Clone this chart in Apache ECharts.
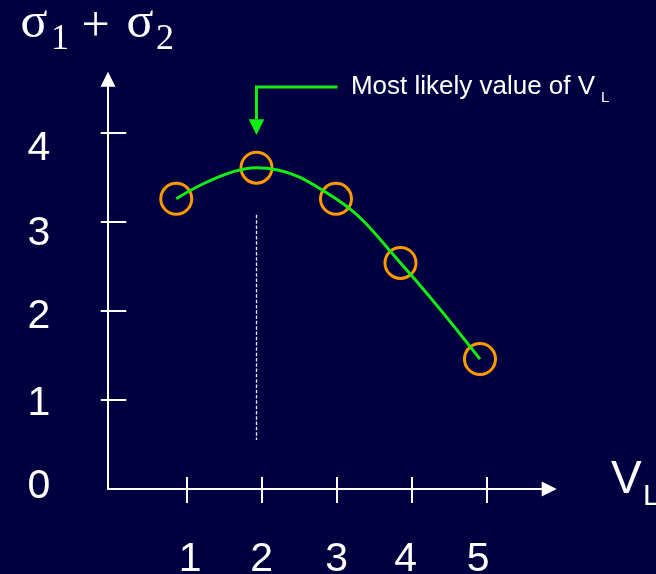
<!DOCTYPE html>
<html><head><meta charset="utf-8">
<script src="https://cdn.jsdelivr.net/npm/echarts@6/dist/echarts.min.js"></script>
<style>html,body{margin:0;padding:0;background:#000040;}#c{width:656px;height:574px;}</style>
</head><body><div id="c"></div>
<script>
// ---- data ----
const vlTicks = [1, 2, 3, 4, 5];
const sumTickMarks = [1, 2, 3, 4];
const sumTickLabels = [0, 1, 2, 3, 4];
const pointVL = [0.86, 1.93, 2.99, 3.85, 4.91];
const pointSum = [3.26, 3.61, 3.26, 2.54, 1.46];
const dropLineRange = [3.08, 0.55];
const annotationText = 'Most likely value of V';
const annotationSub = 'L';
const xName = 'V';
const xNameSub = 'L';

// ---- style ----
const BG = '#000040', WHITE = '#ffffff', GREEN = '#11ee11', ORANGE = '#ff9900';
const SANS = '"Liberation Sans", Arial, sans-serif';
const SERIF = '"Liberation Serif", "Times New Roman", serif';
const yLabelShift = {0: -2, 1: 3.4, 2: 5.7, 3: 11.5, 4: 15.5};
const xLabelShift = {1: 3.3, 2: 0, 3: 0, 4: -6.2, 5: -8.7};

function padV(s) { return s >= 0 ? [2 * s, 0, 0, 0] : [0, 0, -2 * s, 0]; }
function padH(s) { return s >= 0 ? [0, 0, 0, 2 * s] : [0, -2 * s, 0, 0]; }
const yRich = {}, xRich = {};
sumTickLabels.forEach(v => yRich['y' + v] = {fontSize: 41, fontFamily: SANS, color: WHITE, padding: padV(yLabelShift[v])});
vlTicks.forEach(v => xRich['x' + v] = {fontSize: 41, fontFamily: SANS, color: WHITE, padding: padH(xLabelShift[v])});

const X_MIN = -0.05, X_MAX = 5.833, Y_MIN = 0, Y_MAX = 4.603;
const tickStyle = {color: WHITE, width: 2};

const chart = echarts.init(document.getElementById('c'), null, {renderer: 'canvas'});
chart.setOption({
  backgroundColor: BG,
  animation: false,
  grid: {left: 108, right: 106.8, top: 79.3, bottom: 85, containLabel: false, outerBoundsMode: 'none'},
  xAxis: [{
    type: 'value', min: X_MIN, max: X_MAX,
    axisLine: {show: true, onZero: false, lineStyle: {color: WHITE, width: 2}, symbol: ['none', 'triangle'], symbolSize: [15, 15]},
    axisTick: {show: true, inside: true, length: 12, lineStyle: tickStyle, customValues: vlTicks},
    axisLabel: {show: true, customValues: vlTicks, margin: 71, align: 'center', verticalAlign: 'middle',
      formatter: v => '{x' + v + '|' + v + '}', rich: xRich},
    splitLine: {show: false}
  }, {
    type: 'value', min: X_MIN, max: X_MAX, position: 'bottom',
    axisLine: {show: false},
    axisTick: {show: true, inside: false, length: 14, lineStyle: tickStyle, customValues: vlTicks},
    axisLabel: {show: false}, splitLine: {show: false}
  }],
  yAxis: [{
    type: 'value', min: Y_MIN, max: Y_MAX, position: 'left',
    axisLine: {show: true, onZero: false, lineStyle: {color: WHITE, width: 2}, symbol: ['none', 'triangle'], symbolSize: [15, 15]},
    axisTick: {show: true, inside: true, length: 18.3, lineStyle: tickStyle, customValues: sumTickMarks},
    axisLabel: {show: true, customValues: sumTickLabels, margin: 69, align: 'center', verticalAlign: 'middle',
      formatter: v => '{y' + v + '|' + v + '}', rich: yRich},
    splitLine: {show: false}
  }, {
    type: 'value', min: Y_MIN, max: Y_MAX, position: 'left', offset: 0,
    axisLine: {show: false},
    axisTick: {show: true, inside: false, length: 11, lineStyle: tickStyle, customValues: sumTickMarks},
    axisLabel: {show: false}, splitLine: {show: false}
  }],
  series: [{
    type: 'scatter', z: 2,
    data: pointVL.map((x, i) => [x, pointSum[i]]),
    symbol: 'circle', symbolSize: 31,
    itemStyle: {color: 'rgba(0,0,0,0)', borderColor: ORANGE, borderWidth: 3, opacity: 1},
    markLine: {
      silent: true, symbol: 'none', label: {show: false},
      lineStyle: {color: '#e8e8ff', width: 1.3, type: [3.5, 1.8]},
      data: [[{coord: [pointVL[1], dropLineRange[0]]}, {coord: [pointVL[1], dropLineRange[1]]}]]
    }
  }, {
    type: 'line', z: 3,
    data: pointVL.map((x, i) => [x, pointSum[i]]),
    smooth: 0.4, showSymbol: false, symbol: 'none',
    lineStyle: {color: GREEN, width: 3}
  }]
});

// ---- annotations (positioned from the peak data point) ----
const peakIdx = pointSum.indexOf(Math.max(...pointSum));
const p = chart.convertToPixel({xAxisIndex: 0, yAxisIndex: 0}, [pointVL[peakIdx], pointSum[peakIdx]]);
const txt = (text, x, y, size, family) => ({
  type: 'text', x: x, y: y, silent: true,
  style: {text: text, fill: WHITE, font: size + 'px ' + family, textAlign: 'left', textVerticalAlign: 'middle'}
});
chart.setOption({
  graphic: [
    {type: 'polyline', silent: true, shape: {points: [[p[0] + 81, p[1] - 80.7], [p[0], p[1] - 80.7], [p[0], p[1] - 48.5]]},
      style: {stroke: GREEN, lineWidth: 3, fill: null}},
    {type: 'polygon', silent: true, shape: {points: [[p[0] - 7.8, p[1] - 48.5], [p[0] + 7.8, p[1] - 48.5], [p[0], p[1] - 32.7]]},
      style: {fill: GREEN}},
    txt(annotationText, p[0] + 94.4, p[1] - 80.7, 26, SANS),
    txt(annotationSub, 601, 98, 15, SANS),
    // y axis title  σ1 + σ2
    txt('σ', 20.5, 24, 50, SERIF),
    txt('1', 51, 40, 36, SERIF),
    txt('+', 81.5, 28, 50, SERIF),
    txt('σ', 126.5, 24, 50, SERIF),
    txt('2', 156, 40, 36, SERIF),
    // x axis name V_L
    txt(xName, 611, 480, 46, SANS),
    txt(xNameSub, 643, 497, 30, SANS)
  ]
});
</script>
</body></html>
